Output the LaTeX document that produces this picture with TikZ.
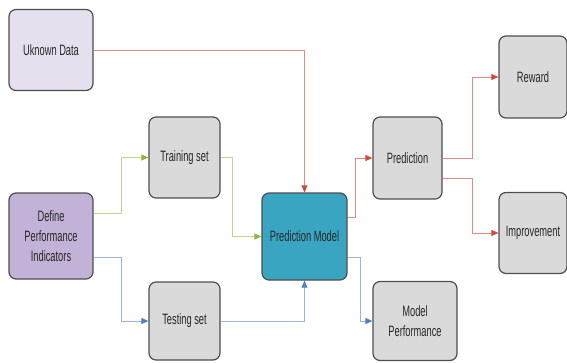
\documentclass[tikz,border=0pt]{standalone}
\usepackage{fontspec}
\setmainfont{Liberation Sans}[FakeStretch=0.62]
\usetikzlibrary{arrows.meta}

\definecolor{boxgrey}{HTML}{DADADA}
\definecolor{boxline}{HTML}{4E4E4E}
\definecolor{lavlight}{HTML}{E6E0EE}
\definecolor{lavdark}{HTML}{C3B2D7}
\definecolor{tealbox}{HTML}{3AA5C1}
\definecolor{redline}{HTML}{DE8C85}
\definecolor{redtip}{HTML}{CF4A3C}
\definecolor{greenline}{HTML}{BBD68E}
\definecolor{greentip}{HTML}{8DB83A}
\definecolor{blueline}{HTML}{9BB5D9}
\definecolor{bluetip}{HTML}{4F80C0}

\begin{document}
\begin{tikzpicture}[x=1pt,y=-1pt]
    \tikzset{box/.style={draw=boxline, line width=1.2pt, rounded corners=7pt, fill=boxgrey,
            align=center, inner sep=2pt, font=\fontsize{15}{20}\selectfont, text=black!85},
        redarr/.style={draw=redline, line width=0.8pt, -{Triangle[length=7pt,width=6pt,color=redtip]}},
        greenarr/.style={draw=greenline, line width=0.8pt, -{Triangle[length=7pt,width=6pt,color=greentip]}},
        bluearr/.style={draw=blueline, line width=0.8pt, -{Triangle[length=7pt,width=6pt,color=bluetip]}}}
    \useasboundingbox (0,0) rectangle (567,362);

    \node[box, fill=lavlight, minimum width=84pt, minimum height=81pt] (unk) at (51,50) {Uknown Data};
    \node[box, fill=lavdark, minimum width=84pt, minimum height=86pt] (def) at (51,236) {Define\\Performance\\Indicators};
    \node[box, minimum width=71pt, minimum height=81pt] (train) at (184.5,157.5) {Training set};
    \node[box, minimum width=71pt, minimum height=78pt] (test) at (184.5,321) {Testing set};
    \node[box, fill=tealbox, minimum width=85pt, minimum height=87pt] (pm) at (304.5,236.5) {Prediction Model};
    \node[box, minimum width=69pt, minimum height=82pt] (pred) at (407.5,158) {Prediction};
    \node[box, minimum width=84pt, minimum height=79pt] (mp) at (415,321) {Model\\Performance};
    \node[box, minimum width=68pt, minimum height=82pt] (rew) at (533,77) {Reward};
    \node[box, minimum width=68pt, minimum height=81pt] (imp) at (533,233) {Improvement};

    % inputs
    \draw[redarr] (unk.east) -| (pm.north);
    \draw[greenarr] ([yshift=23pt]def.east) -- ++(28,0) |- (train.west);
    \draw[bluearr] ([yshift=-21pt]def.east) -- ++(28,0) |- (test.west);
    \draw[greenarr] (train.east) -- ++(12,0) |- (pm.west);
    \draw[bluearr] (test.east) -| (pm.south);

    % outputs
    \draw[redarr] ([yshift=19.5pt]pm.east) -- ++(8,0) |- (pred.west);
    \draw[bluearr] ([yshift=-20.5pt]pm.east) -- ++(13,0) |- (mp.west);
    \draw[redarr] (pred.east) -- ++(30,0) |- (rew.west);
    \draw[redarr] ([yshift=-20pt]pred.east) -- ++(30,0) |- (imp.west);
\end{tikzpicture}
\end{document}
